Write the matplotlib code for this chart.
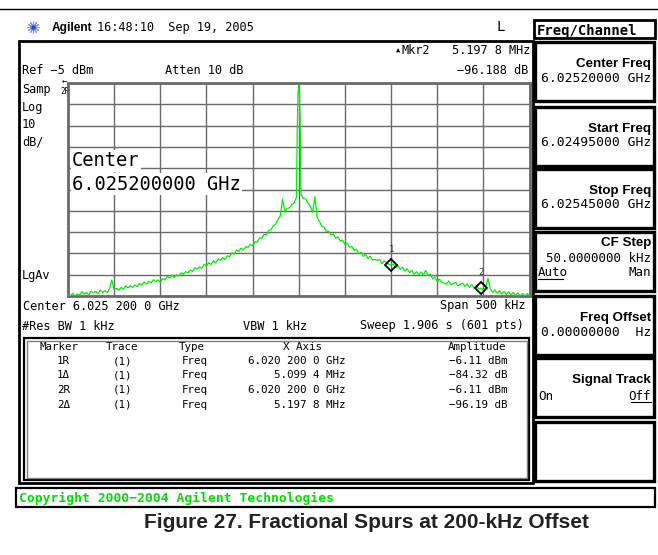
import numpy as np
import matplotlib.pyplot as plt
from matplotlib.patches import Rectangle

W, H = 658, 555
MONO = 'DejaVu Sans Mono'
SANS = 'Liberation Sans'

# sweep: offset from centre (kHz), one point every 2.5 kHz
span_khz = 500
offsets = np.linspace(-span_khz / 2, span_khz / 2, 201)

# trace level (dBm), left half / carrier / right half
left_dbm = [
    -104.4, -105.0, -103.7, -105.0, -104.1, -104.6, -103.0, -104.1, -103.3, -104.5,
    -102.7, -103.4, -102.9, -103.8, -102.2, -103.4, -102.5, -103.4, -101.7, -97.5,
    -102.0, -101.4, -102.3, -101.0, -101.9, -100.3, -101.2, -100.1, -101.0, -99.9,
    -100.6, -99.1, -99.9, -98.4, -99.4, -98.1, -98.9, -97.3, -98.3, -97.4,
    -98.5, -96.8, -97.5, -95.8, -96.6, -95.2, -96.3, -95.0, -95.6, -94.1,
    -94.9, -93.6, -94.2, -92.8, -93.5, -91.7, -92.4, -91.3, -92.0, -90.1,
    -90.9, -89.4, -90.2, -88.4, -89.5, -87.6, -88.3, -86.9, -87.9, -86.1,
    -86.6, -84.7, -85.3, -83.4, -84.2, -82.5, -83.4, -81.8, -82.3, -80.7,
    -81.5, -79.5, -79.8, -77.7, -77.9, -76.0, -76.1, -74.2, -73.9, -72.0,
    -71.3, -69.2, -67.3, -59.5, -65.6, -63.9, -63.6, -62.0, -61.4, -58.5,
]
carrier_dbm = -6.1
right_dbm = [
    -57.6, -59.2, -59.5, -61.3, -62.8, -65.7, -58.4, -68.3, -70.1, -72.2,
    -72.7, -74.6, -74.6, -76.3, -76.0, -77.8, -77.3, -79.2, -78.8, -80.8,
    -80.2, -82.1, -81.7, -83.6, -83.1, -85.1, -84.4, -86.4, -85.5, -87.4,
    -86.3, -88.1, -87.9, -88.2, -87.8, -89.9, -88.6, -89.3, -90.1, -90.4,
    -90.0, -91.8, -90.6, -92.5, -91.5, -93.3, -92.2, -94.1, -92.9, -94.8,
    -93.6, -95.1, -93.7, -95.2, -93.0, -95.3, -94.7, -96.9, -96.1, -98.1,
    -97.1, -98.4, -98.9, -99.4, -97.9, -99.7, -99.2, -98.6, -100.3, -99.5,
    -99.0, -100.5, -99.3, -100.9, -99.7, -101.3, -100.1, -101.6, -101.3, -102.1,
    -101.1, -96.7, -101.5, -103.2, -102.1, -103.7, -102.5, -104.1, -102.8, -104.3,
    -103.0, -104.6, -103.3, -104.8, -103.5, -105.0, -103.8, -105.0, -103.9, -104.8,
]
# native points right next to the carrier
close_khz = [-1.667, -0.833, 0.833, 1.667]
close_dbm = [-28.5, -10.6, -10.6, -28.5]

marker_khz = [100, 197.5]
marker_names = ['1', '2']

ref_dbm = -5
db_per_div = 10

# softkey panel
key_titles = ['Center Freq', 'Start Freq', 'Stop Freq', 'CF Step', 'Freq Offset', 'Signal Track', '']
key_values = ['6.02520000 GHz', '6.02495000 GHz', '6.02545000 GHz', '50.0000000 kHz',
              '0.00000000  Hz', '', '']
key_tops = [42, 107, 169, 232, 296, 358, 422]

# marker table
tbl_head = ['Marker', 'Trace', 'Type', 'X Axis', 'Amplitude']
tbl_marker = ['1R', '1Δ', '2R', '2Δ']
tbl_trace = ['(1)', '(1)', '(1)', '(1)']
tbl_type = ['Freq', 'Freq', 'Freq', 'Freq']
tbl_x = ['6.020 200 0 GHz', '5.099 4 MHz', '6.020 200 0 GHz', '5.197 8 MHz']
tbl_amp = ['−6.11 dBm', '−84.32 dB', '−6.11 dBm', '−96.19 dB']

trace = np.array(left_dbm + [carrier_dbm] + right_dbm)
f_all = np.concatenate([offsets, close_khz])
l_all = np.concatenate([trace, close_dbm])
order = np.argsort(f_all)
f_all, l_all = f_all[order], l_all[order]

fig = plt.figure(figsize=(W / 100, H / 100), dpi=100)
bg = fig.add_axes([0, 0, 1, 1])
bg.set_xlim(0, W)
bg.set_ylim(H, 0)
bg.axis('off')


def box(x0, y0, x1, y1, lw=2.0, color='black'):
    bg.add_patch(Rectangle((x0, y0), x1 - x0, y1 - y0, fill=False, lw=lw, ec=color))


def txt(x, y, s, size=8.6, ha='left', **kw):
    kw.setdefault('family', MONO)
    kw.setdefault('va', 'center')
    return bg.text(x, y, s, fontsize=size, ha=ha, **kw)


# header
bg.plot([0, W], [9, 9], color='black', lw=1)
bg.scatter([33], [27], marker=(12, 2, 0), s=70, color='#7f9fe8', lw=0.8)
bg.scatter([33], [27], marker='o', s=5, color='#2848c0')
txt(52, 28, 'Agilent', size=8.6, family=SANS, weight='bold')
txt(97, 28, '16:48:10  Sep 19, 2005')
txt(496, 27, 'L', size=10)

# screen frame and marker table
box(19, 41, 533, 483, lw=2)
box(24, 338, 529, 480, lw=1.6)
box(26.5, 340.5, 526.5, 477.5, lw=1, color='#808080')

# softkeys
box(534, 20, 655, 38, lw=2)
txt(537, 34.5, 'Freq/Channel', size=10, weight='bold', va='baseline')
for top, title, value in zip(key_tops, key_titles, key_values):
    box(535, top, 654, top + 59, lw=2.4)
    if title == 'CF Step':
        txt(651, top + 11, title, size=9.6, ha='right', family=SANS, weight='bold')
        txt(651, top + 27, value, size=9, ha='right')
        txt(538, top + 41, 'Auto', size=9)
        bg.plot([538, 563], [top + 47, top + 47], color='black', lw=0.8)
        txt(651, top + 41, 'Man', size=9, ha='right')
    elif title == 'Signal Track':
        txt(651, top + 22, title, size=9.6, ha='right', family=SANS, weight='bold')
        txt(538, top + 38, 'On', size=9)
        txt(651, top + 38, 'Off', size=9, ha='right')
        bg.plot([631, 651], [top + 44, top + 44], color='black', lw=0.8)
    elif title:
        txt(651, top + 22, title, size=9.6, ha='right', family=SANS, weight='bold')
        txt(651, top + 36, value, size=9.4, ha='right')

# annotations around the graticule
txt(396, 51, '▲', size=5)
txt(401, 51, 'Mkr2')
txt(530, 51, '5.197 8 MHz', ha='right')
txt(528, 71, '−96.188 dB', ha='right')
txt(22, 71, 'Ref −5 dBm')
txt(165, 71, 'Atten 10 dB')
for y, s in zip([90, 108, 125, 142, 275], ['Samp', 'Log', '10', 'dB/', 'LgAv']):
    txt(22, y, s)
txt(60, 92, '2R', size=5.5)
txt(62, 81.5, '←', size=6.5)
txt(23, 306, 'Center 6.025 200 0 GHz')
txt(526, 306, 'Span 500 kHz', ha='right')
txt(22, 326, '#Res BW 1 kHz')
txt(243, 326, 'VBW 1 kHz')
txt(524, 326, 'Sweep 1.906 s (601 pts)', ha='right')

# table
for x, s in zip([40, 106, 179, 283, 448], tbl_head):
    txt(x, 347, s, size=7.8)
for i in range(len(tbl_marker)):
    y = 361 + 14.5 * i
    txt(57, y, tbl_marker[i], size=7.8)
    txt(113, y, tbl_trace[i], size=7.8)
    txt(182, y, tbl_type[i], size=7.8)
    txt(345, y, tbl_x[i], size=7.8, ha='right')
    txt(449, y, tbl_amp[i], size=7.8)

# copyright bar and caption
box(16, 488, 655, 507, lw=1.6)
txt(19, 498, 'Copyright 2000−2004 Agilent Technologies', size=9.4, weight='bold', color='#00e000')
txt(367, 522, 'Figure 27. Fractional Spurs at 200-kHz Offset', size=15, ha='center',
    family=SANS, weight='bold', color='#222222')

# graticule + trace
gx0, gx1, gy0, gy1 = 68, 529.5, 83, 296
ax = fig.add_axes([gx0 / W, 1 - gy1 / H, (gx1 - gx0) / W, (gy1 - gy0) / H])
ax.set_facecolor('none')
ax.set_xlim(-span_khz / 2, span_khz / 2)
ax.set_ylim(ref_dbm - 10 * db_per_div, ref_dbm)
ax.set_xticks(np.linspace(-span_khz / 2, span_khz / 2, 11))
ax.set_yticks(np.linspace(ref_dbm - 10 * db_per_div, ref_dbm, 11))
ax.tick_params(length=0, labelbottom=False, labelleft=False)
ax.grid(True, color='#6a6a6a', lw=1.0)
for sp in ax.spines.values():
    sp.set_color('#6a6a6a')
    sp.set_linewidth(2)

ax.plot(f_all, l_all, color='#00f000', lw=0.9, zorder=3)

for name, fk in zip(marker_names, marker_khz):
    lvl = trace[np.argmin(np.abs(offsets - fk))]
    ax.plot([fk], [lvl], marker='D', ms=6, mfc='none', mec='black', mew=1.3, zorder=4)
    ax.annotate(name, (fk, lvl), xytext=(0, 11), textcoords='offset points',
                ha='center', va='center', fontsize=6.5, family=MONO, color='#333333')

# big centre readout, white backing hides the grid
for y, s in [(161, 'Center'), (184, '6.025200000 GHz')]:
    ax.text(72, y, s, transform=bg.transData, fontsize=13.5, family=MONO, va='center',
            ha='left', zorder=5, bbox=dict(fc='white', ec='none', pad=1.0))

fig.savefig('out.png', dpi=100)
